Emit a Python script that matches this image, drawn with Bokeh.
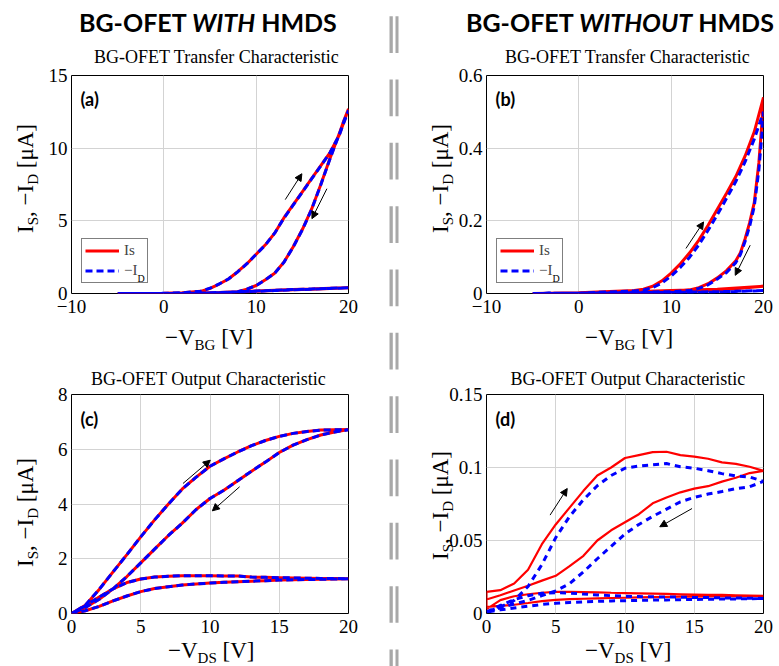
from bokeh.plotting import figure
from bokeh.models import (Range1d, FixedTicker, CustomJSTickFormatter, Label, Legend,
                          LegendItem, Arrow, NormalHead, Div)
from bokeh.layouts import row, column
from bokeh.embed import file_html
from bokeh.resources import INLINE

# ---------------- data ----------------
# (a) with HMDS, transfer
a_v_low = [-5, 0, 2, 4, 6, 8, 10, 12, 14, 16, 18, 20, 18, 16, 14, 12, 10, 8, 6, 4, 2, 0, -5]
a_is_low = [0, 0, 0.01, 0.03, 0.06, 0.1, 0.15, 0.2, 0.25, 0.3, 0.35, 0.4, 0.36, 0.31, 0.27, 0.22, 0.17, 0.12, 0.07, 0.03, 0.01, 0, 0]
a_id_low = [0, 0, 0.01, 0.03, 0.06, 0.1, 0.15, 0.2, 0.25, 0.3, 0.35, 0.39, 0.36, 0.31, 0.27, 0.22, 0.17, 0.12, 0.07, 0.03, 0.01, 0, 0]
a_v_up = [-5, -2, 0, 2, 4, 5, 6, 7, 8, 9, 10, 11, 12, 13, 14, 15, 16, 17, 18, 19, 20]
a_is_up = [0, 0, 0.01, 0.05, 0.15, 0.35, 0.65, 1.0, 1.5, 2.05, 2.7, 3.35, 4.15, 5.2, 6.1, 7.0, 7.9, 8.8, 9.7, 10.9, 12.7]
a_id_up = [0, 0, 0.01, 0.05, 0.16, 0.36, 0.66, 1.0, 1.49, 2.05, 2.7, 3.34, 4.15, 5.18, 6.08, 6.98, 7.88, 8.78, 9.7, 10.9, 12.6]
a_v_dn = [20, 19.5, 19, 18, 17, 16, 15, 14, 13, 12, 11, 10, 9, 8, 7, 5, 3, 0, -5]
a_is_dn = [12.7, 11.9, 11.0, 9.3, 7.5, 5.8, 4.4, 3.2, 2.15, 1.4, 0.95, 0.55, 0.3, 0.12, 0.05, 0.01, 0.0, 0.0, 0.0]
a_id_dn = [12.6, 11.85, 10.95, 9.28, 7.48, 5.78, 4.38, 3.19, 2.14, 1.39, 0.94, 0.55, 0.3, 0.12, 0.05, 0.01, 0.0, 0.0, 0.0]

# (b) without HMDS, transfer
b_v_low = [-5, 0, 5, 10, 15, 20, 15, 10, 5, 0, -5]
b_is_low = [0, 0.001, 0.002, 0.004, 0.009, 0.02, 0.012, 0.008, 0.004, 0.002, 0]
b_id_low = [0, 0.001, 0.001, 0.002, 0.004, 0.008, 0.005, 0.003, 0.002, 0.001, 0]
b_v_up = [-5, 0, 2, 4, 6, 7, 8, 9, 10, 11, 12, 13, 14, 15, 16, 17, 18, 19, 20]
b_is_up = [0, 0.002, 0.004, 0.006, 0.008, 0.012, 0.02, 0.035, 0.056, 0.082, 0.112, 0.147, 0.188, 0.232, 0.276, 0.322, 0.378, 0.445, 0.54]
b_id_up = [0, 0.001, 0.003, 0.005, 0.007, 0.01, 0.016, 0.029, 0.048, 0.072, 0.1, 0.134, 0.174, 0.217, 0.262, 0.308, 0.362, 0.425, 0.50]
b_v_dn = [20, 19.8, 19.5, 19, 18.5, 18, 17.5, 17, 16, 15, 14, 13, 12, 10, 5, 0, -5]
b_is_dn = [0.54, 0.46, 0.36, 0.25, 0.195, 0.15, 0.112, 0.09, 0.063, 0.043, 0.027, 0.016, 0.01, 0.006, 0.004, 0.002, 0]
b_id_dn = [0.50, 0.43, 0.34, 0.24, 0.185, 0.143, 0.107, 0.085, 0.058, 0.04, 0.024, 0.014, 0.008, 0.005, 0.003, 0.001, 0]

# (c) with HMDS, output
c_v_up = [0, 1, 2, 3, 4, 5, 6, 7, 8, 9, 10, 11, 12, 13, 14, 15, 16, 17, 18, 19, 20]
c_v_dn = [20, 19, 18, 17, 16, 15, 14, 13, 12, 11, 10, 9, 8, 7, 6, 5, 4, 3, 2, 1, 0]
c_is_up = [0, 0.3, 0.88, 1.52, 2.15, 2.8, 3.42, 4.0, 4.55, 4.98, 5.38, 5.65, 5.9, 6.13, 6.32, 6.47, 6.58, 6.65, 6.7, 6.71, 6.72]
c_id_up = [0, 0.3, 0.88, 1.52, 2.15, 2.8, 3.42, 4.0, 4.55, 4.98, 5.38, 5.65, 5.9, 6.13, 6.32, 6.47, 6.58, 6.65, 6.7, 6.71, 6.71]
c_is_dn = [6.72, 6.63, 6.52, 6.35, 6.15, 5.88, 5.53, 5.2, 4.85, 4.5, 4.2, 3.8, 3.3, 2.85, 2.35, 1.85, 1.35, 0.9, 0.52, 0.22, 0]
c_id_dn = [6.71, 6.63, 6.52, 6.35, 6.15, 5.88, 5.53, 5.2, 4.85, 4.5, 4.2, 3.8, 3.3, 2.85, 2.35, 1.85, 1.35, 0.9, 0.52, 0.22, 0]
c_is_low_up = [0, 0.28, 0.6, 0.9, 1.13, 1.26, 1.33, 1.36, 1.38, 1.38, 1.38, 1.37, 1.37, 1.33, 1.32, 1.31, 1.3, 1.29, 1.28, 1.28, 1.27]
c_id_low_up = [0, 0.28, 0.6, 0.9, 1.13, 1.26, 1.33, 1.36, 1.38, 1.38, 1.38, 1.37, 1.37, 1.33, 1.32, 1.31, 1.3, 1.29, 1.28, 1.28, 1.27]
c_is_low_dn = [1.27, 1.26, 1.25, 1.24, 1.23, 1.22, 1.2, 1.18, 1.16, 1.14, 1.11, 1.08, 1.04, 0.98, 0.91, 0.8, 0.64, 0.46, 0.26, 0.1, 0]
c_id_low_dn = [1.27, 1.26, 1.25, 1.24, 1.23, 1.22, 1.2, 1.18, 1.16, 1.14, 1.11, 1.08, 1.04, 0.98, 0.91, 0.8, 0.64, 0.46, 0.26, 0.1, 0]

# (d) without HMDS, output
d_v_up = [0, 1, 2, 3, 4, 5, 6, 7, 8, 9, 10, 11, 12, 13, 14, 15, 16, 17, 18, 19, 20]
d_v_dn = [20, 19, 18, 17, 16, 15, 14, 13, 12, 11, 10, 9, 8, 7, 6, 5, 4, 3, 2, 1, 0]
d_is_up = [0.0148, 0.016, 0.0205, 0.030, 0.0475, 0.061, 0.0725, 0.084, 0.0945, 0.1, 0.1065, 0.1085, 0.1105, 0.1108, 0.1085, 0.1075, 0.106, 0.1035, 0.1025, 0.1005, 0.0977]
d_is_dn = [0.0977, 0.0962, 0.093, 0.0903, 0.0872, 0.0855, 0.083, 0.0795, 0.0755, 0.068, 0.0625, 0.057, 0.05, 0.0395, 0.0325, 0.0258, 0.0225, 0.019, 0.0158, 0.0125, 0.0096]
d_is_low_up = [0.003, 0.0092, 0.0118, 0.0132, 0.0142, 0.0148, 0.0149, 0.0147, 0.0145, 0.0142, 0.014, 0.0138, 0.0136, 0.0134, 0.0132, 0.013, 0.0128, 0.0127, 0.0125, 0.0123, 0.0121]
d_is_low_dn = [0.0121, 0.012, 0.0119, 0.0118, 0.0117, 0.0116, 0.0115, 0.0114, 0.0112, 0.011, 0.0108, 0.0106, 0.0104, 0.0101, 0.0098, 0.0093, 0.0085, 0.0072, 0.006, 0.0052, 0.0046]
d_id_up = [0.001, 0.0045, 0.009, 0.0185, 0.0335, 0.052, 0.0665, 0.078, 0.0875, 0.0945, 0.0995, 0.101, 0.1018, 0.1027, 0.1005, 0.0995, 0.0978, 0.0958, 0.0942, 0.0935, 0.0905]
d_id_dn = [0.0905, 0.0868, 0.0855, 0.0835, 0.0818, 0.0795, 0.0765, 0.0715, 0.0665, 0.061, 0.0545, 0.046, 0.0375, 0.0285, 0.0205, 0.0155, 0.0122, 0.009, 0.0065, 0.004, 0.001]
d_id_low_up = [0.001, 0.0055, 0.0095, 0.0122, 0.0138, 0.0143, 0.014, 0.0133, 0.0127, 0.0122, 0.0118, 0.0116, 0.0114, 0.0113, 0.0112, 0.011, 0.0109, 0.0107, 0.0106, 0.0105, 0.0103]
d_id_low_dn = [0.0103, 0.0101, 0.01, 0.0099, 0.0098, 0.0096, 0.0095, 0.0093, 0.0092, 0.009, 0.0088, 0.0086, 0.0083, 0.008, 0.0076, 0.007, 0.0062, 0.005, 0.0038, 0.0025, 0.001]

# sweep-direction arrows (x_start, y_start, x_end, y_end)
a_arrows = [(13.15, 6.46, 14.95, 8.24), (17.66, 7.21, 16.04, 5.15)]
b_arrows = [(11.6, 0.124, 13.51, 0.197), (18.56, 0.133, 16.94, 0.050)]
c_arrows = [(8.05, 4.75, 10.02, 5.6), (12.14, 4.63, 10.17, 3.75)]
d_arrows = [(4.59, 0.0674, 5.83, 0.0856), (14.84, 0.0719, 12.51, 0.0594)]

transfer_xticks = [-10, 0, 10, 20]
output_xticks = [0, 5, 10, 15, 20]
a_yticks = [0, 5, 10, 15]
b_yticks = [0, 0.2, 0.4, 0.6]
c_yticks = [0, 2, 4, 6, 8]
d_yticks = [0, 0.05, 0.1, 0.15]

header_left = "BG-OFET <i>WITH</i> HMDS"
header_right = "BG-OFET <i>WITHOUT</i> HMDS"
title_transfer = "BG-OFET Transfer Characteristic"
title_output = "BG-OFET Output Characteristic"

# ---------------- styling helpers ----------------
SERIF = "Liberation Serif"
SANS = "Lato"
SERIF_CSS = "'Liberation Serif', serif"
SANS_CSS = "Lato, sans-serif"
RED = "#ff0000"
BLUE = "#0000ff"


def make_fig(w, h, mbl, mbr, mbt, mbb, xr, yr, xt, yt):
    p = figure(width=w, height=h, x_range=Range1d(*xr), y_range=Range1d(*yr),
               toolbar_location=None, output_backend="svg", tools="",
               min_border_left=mbl, min_border_right=mbr, min_border_top=mbt, min_border_bottom=mbb)
    p.outline_line_color = "black"
    p.outline_line_width = 1
    p.outline_line_alpha = 1
    p.background_fill_color = "white"
    p.border_fill_color = None
    fmt = "return tick < 0 ? '\\u2212' + String(Math.abs(tick)) : String(tick);"
    for ax, ticks in ((p.xaxis[0], xt), (p.yaxis[0], yt)):
        ax.ticker = FixedTicker(ticks=ticks)
        ax.formatter = CustomJSTickFormatter(code=fmt)
        ax.axis_label = None
        ax.axis_line_color = None
        ax.major_tick_line_color = None
        ax.minor_tick_line_color = None
        ax.major_tick_out = 0
        ax.major_tick_in = 0
        ax.minor_tick_out = 0
        ax.minor_tick_in = 0
        ax.major_label_text_font = SERIF
        ax.major_label_text_font_size = "19px"
        ax.major_label_text_color = "black"
    p.xaxis[0].major_label_standoff = 6
    p.yaxis[0].major_label_standoff = 4
    p.xgrid[0].ticker = FixedTicker(ticks=xt)
    p.ygrid[0].ticker = FixedTicker(ticks=yt)
    p.grid.grid_line_color = "#d3d3d3"
    p.grid.grid_line_width = 1
    return p


def lab(p, fr, px, py, text, size, font=SERIF, style="normal", level="annotation"):
    fl, fb = fr
    p.add_layout(Label(x=px - fl, y=fb - py, x_units="screen", y_units="screen", text=text,
                       text_font=font, text_font_size=f"{size}px", text_font_style=style,
                       text_align="left", text_baseline="alphabetic", text_color="black",
                       level=level))


def curves(p, xs, ys_is, ys_id, red_w, blue_w, dash):
    r1 = p.line(xs, ys_is, line_color=RED, line_width=red_w)
    r2 = p.line(xs, ys_id, line_color=BLUE, line_width=blue_w, line_dash=dash)
    return r1, r2


def arrows(p, arr):
    for xs, ys, xe, ye in arr:
        p.add_layout(Arrow(x_start=xs, y_start=ys, x_end=xe, y_end=ye, line_width=1, line_color="black",
                           end=NormalHead(size=7, fill_color="black", line_color="black", line_width=1)))


def legend(p, fr, r1, r2):
    lg = Legend(items=[LegendItem(label="Is", renderers=[r1]), LegendItem(label="−I", renderers=[r2])],
                location="bottom_left", margin=10, padding=3, spacing=3, glyph_width=34,
                glyph_height=17, label_height=17, label_standoff=5,
                label_text_font=SERIF, label_text_font_size="15px",
                border_line_color="black", border_line_width=1, background_fill_alpha=0)
    p.add_layout(lg)
    fl, fb = fr
    lab(p, fr, fl + 66, fb - 15, "D", 10, level="overlay")


def sub(t):
    return f'<span style="font-size:15px;position:relative;top:5px">{t}</span>'


def txt(html, left, top, size, family, weight="normal", rotate=False):
    style = (f"position:absolute;left:{left}px;top:{top}px;font-family:{family};font-size:{size}px;"
             f"line-height:{size}px;font-weight:{weight};white-space:nowrap;color:#000;margin:0;padding:0;")
    if rotate:
        style += "transform:rotate(-90deg);transform-origin:0 0;"
    return f'<div style="{style}">{html}</div>'


def box(w, h, parts):
    html = f'<div style="position:relative;width:{w}px;height:{h}px;overflow:visible;">' + "".join(parts) + "</div>"
    return Div(text=html, width=w, height=h, margin=(0, 0, 0, 0), styles={"overflow": "visible"})


Y_HTML = "I" + sub("S") + ", −I" + sub("D") + " [μA]"
X_BG = "−V" + sub("BG") + " [V]"
X_DS = "−V" + sub("DS") + " [V]"

# ---------------- figures ----------------
# page coords of frames: (left x, bottom y)
FA = (71, 293)
FB = (486, 293)
FC = (71, 613)
FD = (486, 613)

pa = make_fig(343, 262, 28, 38, 15, 29, (-10, 20), (0, 15), transfer_xticks, a_yticks)
pb = make_fig(333, 262, 40, 16, 15, 29, (-10, 20), (0, 0.6), transfer_xticks, b_yticks)
pc = make_fig(343, 263, 28, 38, 16, 28, (0, 20), (0, 8), output_xticks, c_yticks)
pd = make_fig(333, 263, 40, 16, 16, 28, (0, 20), (0, 0.15), output_xticks, d_yticks)

ra = curves(pa, a_v_low + a_v_up + a_v_dn, a_is_low + a_is_up + a_is_dn, a_id_low + a_id_up + a_id_dn, 3, 3, "7 4")
rb = curves(pb, b_v_low + b_v_up + b_v_dn, b_is_low + b_is_up + b_is_dn, b_id_low + b_id_up + b_id_dn, 3, 3, "7 4")
rc = curves(pc, c_v_up + c_v_dn + c_v_up + c_v_dn, c_is_low_up + c_is_low_dn + c_is_up + c_is_dn,
            c_id_low_up + c_id_low_dn + c_id_up + c_id_dn, 3, 3, "7 4")
rd = curves(pd, d_v_up + d_v_dn + d_v_up + d_v_dn, d_is_low_up + d_is_low_dn + d_is_up + d_is_dn,
            d_id_low_up + d_id_low_dn + d_id_up + d_id_dn, 2.2, 3, "6 5")

arrows(pa, a_arrows)
arrows(pb, b_arrows)
arrows(pc, c_arrows)
arrows(pd, d_arrows)

legend(pa, FA, *ra)
legend(pb, FB, *rb)

# panel tags
lab(pa, FA, 80, 98, "(a)", 18, SANS, "bold")
lab(pb, FB, 495, 98, "(b)", 18, SANS, "bold")
lab(pc, FC, 80, 418, "(c)", 18, SANS, "bold")
lab(pd, FD, 495, 418, "(d)", 18, SANS, "bold")

# ---------------- text blocks (HTML) ----------------
hdr_l = box(386, 60, [txt(header_left, 79, 9.5, 25, SANS_CSS, "bold"),
                      txt(title_transfer, 94, 47.7, 18, SERIF_CSS)])
hdr_r = box(379, 60, [txt(header_right, 66, 9.5, 25, SANS_CSS, "bold"),
                      txt(title_transfer, 105, 47.7, 18, SERIF_CSS)])
yl_a = box(43, 262, [txt(Y_HTML, 13.7, 173, 23, SERIF_CSS, rotate=True)])
yl_b = box(46, 262, [txt(Y_HTML, 28.7, 173, 23, SERIF_CSS, rotate=True)])
mid_l = box(386, 56, [txt(X_BG, 165, 3.7, 23, SERIF_CSS),
                      txt(title_output, 91, 47.7, 18, SERIF_CSS)])
mid_r = box(379, 56, [txt(X_BG, 185, 3.7, 23, SERIF_CSS),
                      txt(title_output, 110.5, 47.7, 18, SERIF_CSS)])
yl_c = box(43, 263, [txt(Y_HTML, 13.7, 188.7, 23, SERIF_CSS, rotate=True)])
yl_d = box(46, 263, [txt(Y_HTML, 28.7, 182, 23, SERIF_CSS, rotate=True)])
bot_l = box(386, 25, [txt(X_DS, 168, -2.3, 23, SERIF_CSS)])
bot_r = box(379, 25, [txt(X_DS, 185, -2.3, 23, SERIF_CSS)])

# dashed double separator
sep = figure(width=14, height=666, x_range=Range1d(0, 14), y_range=Range1d(666, 0),
             toolbar_location=None, output_backend="svg", tools="", min_border=0,
             x_axis_type=None, y_axis_type=None)
sep.outline_line_color = None
sep.grid.visible = False
sep.border_fill_color = None
tops = [15.7 + 63.33 * k for k in range(11)]
sep.quad(left=[3] * 11 + [9] * 11, right=[6.3] * 11 + [12] * 11, top=tops + tops,
         bottom=[t + 36.7 for t in tops] * 2, fill_color="#a8a8a8", line_color=None)

left_col = column(hdr_l, row(yl_a, pa), mid_l, row(yl_c, pc), bot_l)
right_col = column(hdr_r, row(yl_b, pb), mid_r, row(yl_d, pd), bot_r)
layout = row(left_col, sep, right_col)
open("out.html", "w").write(file_html(layout, INLINE))
